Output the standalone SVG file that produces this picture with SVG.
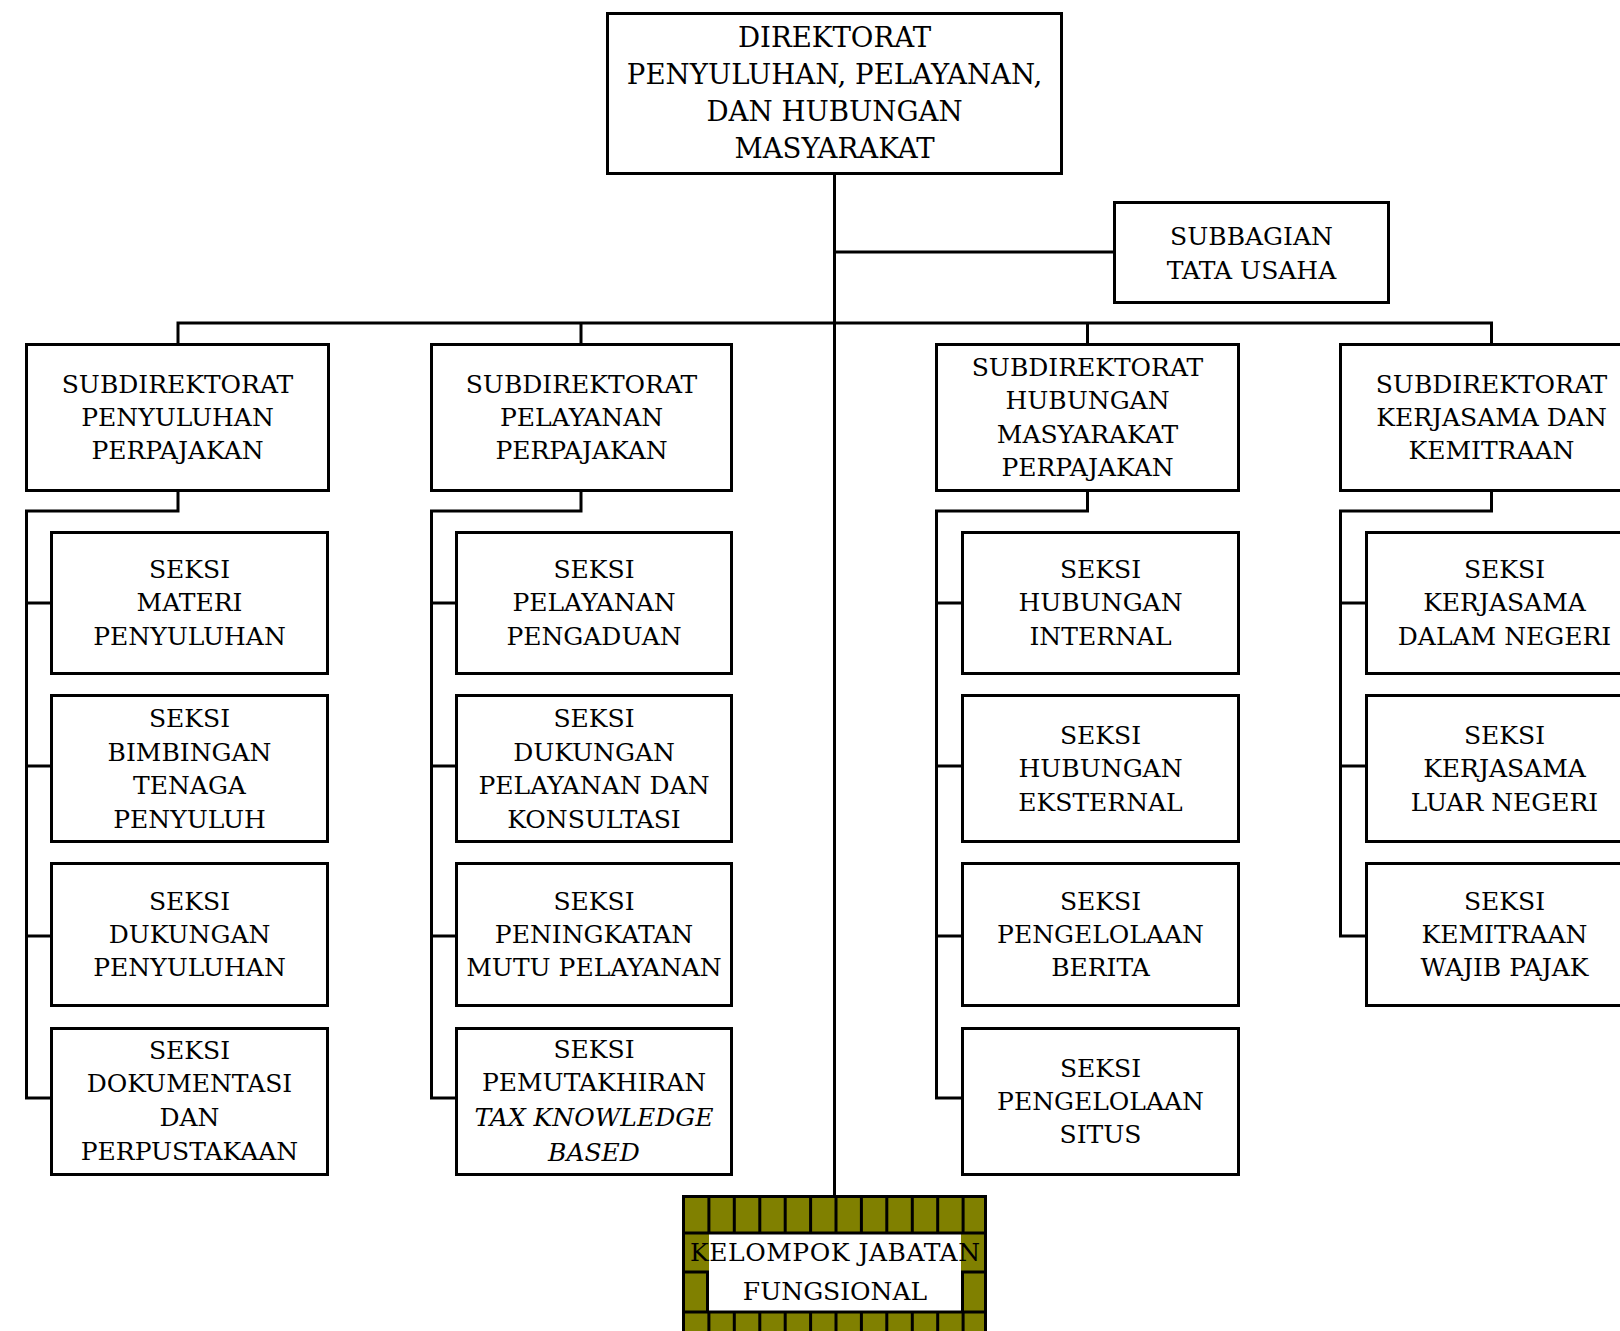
<svg xmlns="http://www.w3.org/2000/svg" width="1620" height="1331" viewBox="0 0 1620 1331">
<style>
.box{fill:#fff;stroke:#000;stroke-width:3}
.t{font-family:"DejaVu Serif","Liberation Serif",serif;font-size:25px;text-anchor:middle;fill:#000}
.big{font-size:27.6px}
.it{font-style:italic}
.c{fill:none;stroke:#000;stroke-width:3}
.g{stroke:#000;stroke-width:3}
</style>
<rect width="1620" height="1331" fill="#fff"/>
<g id="connectors">
<path class="c" d="M834.5 175V1233"/>
<path class="c" d="M834.5 252H1113"/>
<path class="c" d="M178 323H1491.5M178 321.5V343M581 323V343M1087.5 323V343M1491.5 321.5V343"/>
<path class="c" d="M178 492V511H26.5V1098H50M26.5 603H50M26.5 766H50M26.5 936H50"/>
<path class="c" d="M581 492V511H431.5V1098H455M431.5 603H455M431.5 766H455M431.5 936H455"/>
<path class="c" d="M1087.5 492V511H936.5V1098H961M936.5 603H961M936.5 766H961M936.5 936H961"/>
<path class="c" d="M1491.5 492V511H1340.5V936H1365M1340.5 603H1365M1340.5 766H1365"/>
</g>
<g id="direktorat">
<rect class="box" x="607.5" y="13.5" width="454" height="160"/>
<text class="t big" x="834.5" y="47">DIREKTORAT</text>
<text class="t big" x="834.5" y="84">PENYULUHAN, PELAYANAN,</text>
<text class="t big" x="834.5" y="121">DAN HUBUNGAN</text>
<text class="t big" x="834.5" y="158">MASYARAKAT</text>
</g>
<g id="subbagian">
<rect class="box" x="1114.5" y="202.5" width="274" height="100"/>
<text class="t" x="1251.5" y="245">SUBBAGIAN</text>
<text class="t" x="1251.5" y="279">TATA USAHA</text>
</g>
<g id="sub1">
<rect class="box" x="26.5" y="344.5" width="302" height="146"/>
<text class="t" x="177.5" y="393">SUBDIREKTORAT</text>
<text class="t" x="177.5" y="426">PENYULUHAN</text>
<text class="t" x="177.5" y="459">PERPAJAKAN</text>
</g>
<g id="sub2">
<rect class="box" x="431.5" y="344.5" width="300" height="146"/>
<text class="t" x="581.5" y="393">SUBDIREKTORAT</text>
<text class="t" x="581.5" y="426">PELAYANAN</text>
<text class="t" x="581.5" y="459">PERPAJAKAN</text>
</g>
<g id="sub3">
<rect class="box" x="936.5" y="344.5" width="302" height="146"/>
<text class="t" x="1087.5" y="376">SUBDIREKTORAT</text>
<text class="t" x="1087.5" y="409">HUBUNGAN</text>
<text class="t" x="1087.5" y="443">MASYARAKAT</text>
<text class="t" x="1087.5" y="476">PERPAJAKAN</text>
</g>
<g id="sub4">
<rect class="box" x="1340.5" y="344.5" width="302" height="146"/>
<text class="t" x="1491.5" y="393">SUBDIREKTORAT</text>
<text class="t" x="1491.5" y="426">KERJASAMA DAN</text>
<text class="t" x="1491.5" y="459">KEMITRAAN</text>
</g>
<g id="s1-1">
<rect class="box" x="51.5" y="532.5" width="276" height="141"/>
<text class="t" x="189.5" y="578">SEKSI</text>
<text class="t" x="189.5" y="611">MATERI</text>
<text class="t" x="189.5" y="645">PENYULUHAN</text>
</g>
<g id="s1-2">
<rect class="box" x="51.5" y="695.5" width="276" height="146"/>
<text class="t" x="189.5" y="727">SEKSI</text>
<text class="t" x="189.5" y="761">BIMBINGAN</text>
<text class="t" x="189.5" y="794">TENAGA</text>
<text class="t" x="189.5" y="828">PENYULUH</text>
</g>
<g id="s1-3">
<rect class="box" x="51.5" y="863.5" width="276" height="142"/>
<text class="t" x="189.5" y="910">SEKSI</text>
<text class="t" x="189.5" y="943">DUKUNGAN</text>
<text class="t" x="189.5" y="976">PENYULUHAN</text>
</g>
<g id="s1-4">
<rect class="box" x="51.5" y="1028.5" width="276" height="146"/>
<text class="t" x="189.5" y="1059">SEKSI</text>
<text class="t" x="189.5" y="1092">DOKUMENTASI</text>
<text class="t" x="189.5" y="1126">DAN</text>
<text class="t" x="189.5" y="1160">PERPUSTAKAAN</text>
</g>
<g id="s2-1">
<rect class="box" x="456.5" y="532.5" width="275" height="141"/>
<text class="t" x="594" y="578">SEKSI</text>
<text class="t" x="594" y="611">PELAYANAN</text>
<text class="t" x="594" y="645">PENGADUAN</text>
</g>
<g id="s2-2">
<rect class="box" x="456.5" y="695.5" width="275" height="146"/>
<text class="t" x="594" y="727">SEKSI</text>
<text class="t" x="594" y="761">DUKUNGAN</text>
<text class="t" x="594" y="794">PELAYANAN DAN</text>
<text class="t" x="594" y="828">KONSULTASI</text>
</g>
<g id="s2-3">
<rect class="box" x="456.5" y="863.5" width="275" height="142"/>
<text class="t" x="594" y="910">SEKSI</text>
<text class="t" x="594" y="943">PENINGKATAN</text>
<text class="t" x="594" y="976">MUTU PELAYANAN</text>
</g>
<g id="s2-4">
<rect class="box" x="456.5" y="1028.5" width="275" height="146"/>
<text class="t" x="594" y="1058">SEKSI</text>
<text class="t" x="594" y="1091">PEMUTAKHIRAN</text>
<text class="t it" x="594" y="1126">TAX KNOWLEDGE</text>
<text class="t it" x="594" y="1161">BASED</text>
</g>
<g id="s3-1">
<rect class="box" x="962.5" y="532.5" width="276" height="141"/>
<text class="t" x="1100.5" y="578">SEKSI</text>
<text class="t" x="1100.5" y="611">HUBUNGAN</text>
<text class="t" x="1100.5" y="645">INTERNAL</text>
</g>
<g id="s3-2">
<rect class="box" x="962.5" y="695.5" width="276" height="146"/>
<text class="t" x="1100.5" y="744">SEKSI</text>
<text class="t" x="1100.5" y="777">HUBUNGAN</text>
<text class="t" x="1100.5" y="811">EKSTERNAL</text>
</g>
<g id="s3-3">
<rect class="box" x="962.5" y="863.5" width="276" height="142"/>
<text class="t" x="1100.5" y="910">SEKSI</text>
<text class="t" x="1100.5" y="943">PENGELOLAAN</text>
<text class="t" x="1100.5" y="976">BERITA</text>
</g>
<g id="s3-4">
<rect class="box" x="962.5" y="1028.5" width="276" height="146"/>
<text class="t" x="1100.5" y="1077">SEKSI</text>
<text class="t" x="1100.5" y="1110">PENGELOLAAN</text>
<text class="t" x="1100.5" y="1143">SITUS</text>
</g>
<g id="s4-1">
<rect class="box" x="1366.5" y="532.5" width="276" height="141"/>
<text class="t" x="1504.5" y="578">SEKSI</text>
<text class="t" x="1504.5" y="611">KERJASAMA</text>
<text class="t" x="1504.5" y="645">DALAM NEGERI</text>
</g>
<g id="s4-2">
<rect class="box" x="1366.5" y="695.5" width="276" height="146"/>
<text class="t" x="1504.5" y="744">SEKSI</text>
<text class="t" x="1504.5" y="777">KERJASAMA</text>
<text class="t" x="1504.5" y="811">LUAR NEGERI</text>
</g>
<g id="s4-3">
<rect class="box" x="1366.5" y="863.5" width="276" height="142"/>
<text class="t" x="1504.5" y="910">SEKSI</text>
<text class="t" x="1504.5" y="943">KEMITRAAN</text>
<text class="t" x="1504.5" y="976">WAJIB PAJAK</text>
</g>
<g id="kelompok">
<rect x="683.5" y="1196.5" width="302" height="160" fill="#808000"/>
<rect x="709" y="1233" width="252" height="79" fill="#fff"/>
<path class="g" d="M708.9 1195V1233M734.3 1195V1233M759.8 1195V1233M785.2 1195V1233M810.6 1195V1233M836 1195V1233M861.4 1195V1233M886.8 1195V1233M912.3 1195V1233M937.7 1195V1233M963.1 1195V1233"/>
<path class="g" d="M708.9 1312V1340M734.3 1312V1340M759.8 1312V1340M785.2 1312V1340M810.6 1312V1340M836 1312V1340M861.4 1312V1340M886.8 1312V1340M912.3 1312V1340M937.7 1312V1340M963.1 1312V1340"/>
<path class="g" d="M682 1233H987M682 1312H987M682 1272H709M961 1272H987M707.5 1272V1312M962.5 1272V1312"/>
<rect x="683.5" y="1196.5" width="302" height="160" fill="none" stroke="#000" stroke-width="3"/>
<text class="t" x="835" y="1261" textLength="290" lengthAdjust="spacing">KELOMPOK JABATAN</text>
<text class="t" x="835" y="1300">FUNGSIONAL</text>
</g>
</svg>
